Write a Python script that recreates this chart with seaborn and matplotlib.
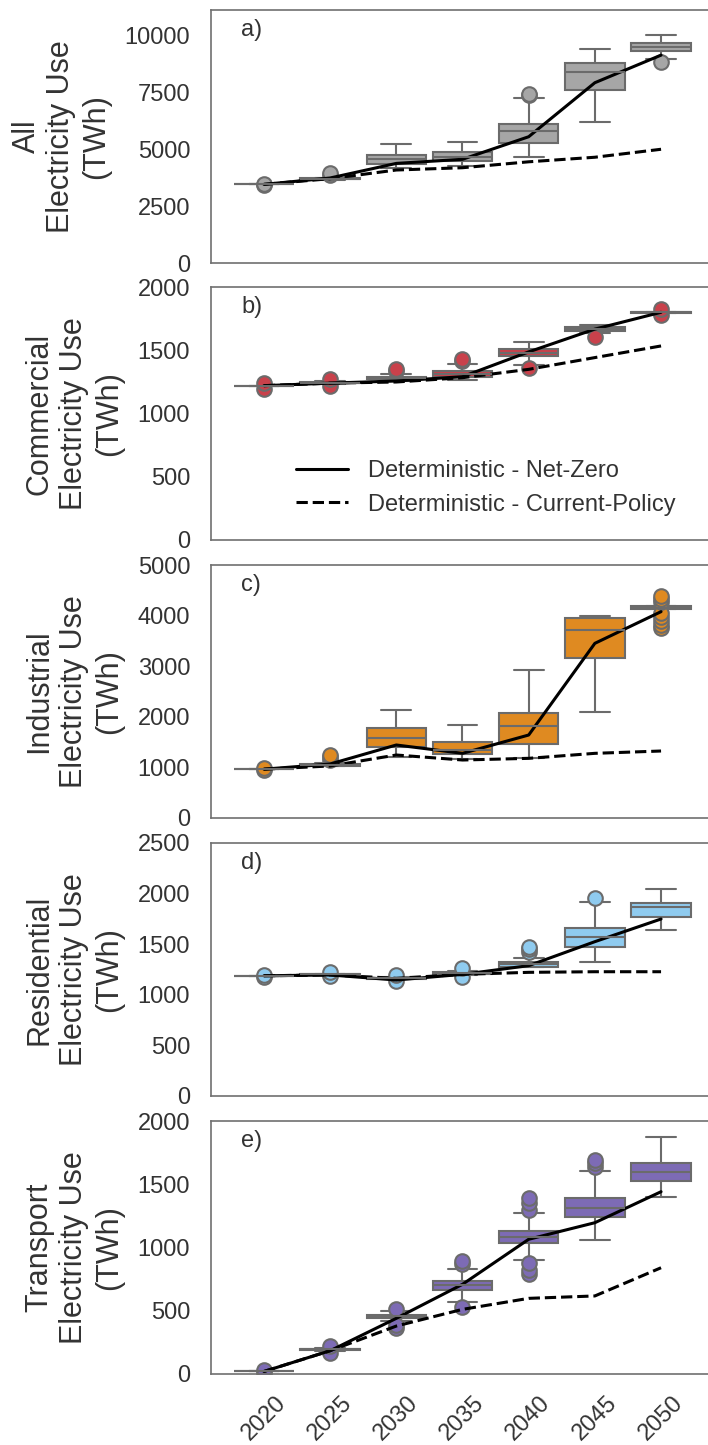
import numpy as np
import pandas as pd
import seaborn as sns
import matplotlib.pyplot as plt
from matplotlib.lines import Line2D

years = ['2020', '2025', '2030', '2035', '2040', '2045', '2050']

# a) all electricity use (TWh) - box stats
all_lo = [3450, 3640, 4150, 4250, 4660, 6200, 8930]
all_q1 = [3450, 3670, 4330, 4490, 5280, 7590, 9320]
all_med = [3450, 3695, 4550, 4660, 5790, 8390, 9460]
all_q3 = [3450, 3720, 4740, 4880, 6100, 8760, 9640]
all_hi = [3450, 3750, 5200, 5320, 7260, 9370, 10000]
all_out = [[3410, 3480], [3880, 3930], [], [], [7350, 7420], [], [8820]]
all_nz = [3450, 3730, 4370, 4550, 5540, 7910, 9120]
all_cp = [3450, 3700, 4080, 4180, 4440, 4640, 4990]

# b) commercial
com_lo = [1220, 1232, 1255, 1265, 1385, 1635, 1795]
com_q1 = [1220, 1238, 1270, 1291, 1455, 1655, 1795]
com_med = [1220, 1243, 1280, 1310, 1481, 1670, 1800]
com_q3 = [1220, 1248, 1290, 1336, 1508, 1685, 1805]
com_hi = [1220, 1255, 1315, 1390, 1566, 1701, 1805]
com_out = [[1195, 1240], [1215, 1272], [1336, 1350], [1415, 1432], [1360], [1605], [1775, 1824]]
com_nz = [1220, 1240, 1257, 1291, 1487, 1667, 1800]
com_cp = [1220, 1240, 1249, 1283, 1349, 1442, 1534]

# c) industrial
ind_lo = [965, 1020, 1212, 1159, 1195, 2101, 4130]
ind_q1 = [965, 1030, 1396, 1255, 1456, 3168, 4140]
ind_med = [965, 1045, 1574, 1344, 1825, 3715, 4160]
ind_q3 = [965, 1060, 1772, 1509, 2082, 3946, 4180]
ind_hi = [965, 1080, 2134, 1838, 2925, 4000, 4190]
ind_out = [[950, 985], [1150, 1200, 1250], [], [], [], [],
           [3760, 3820, 3900, 3980, 4060, 4260, 4320, 4380]]
ind_nz = [965, 1067, 1443, 1278, 1640, 3452, 4078]
ind_cp = [965, 1028, 1245, 1146, 1179, 1278, 1324]

# d) residential
res_lo = [1188, 1194, 1156, 1195, 1270, 1321, 1640]
res_q1 = [1188, 1198, 1160, 1208, 1278, 1475, 1772]
res_med = [1188, 1202, 1165, 1215, 1300, 1574, 1865]
res_q3 = [1188, 1206, 1170, 1222, 1321, 1657, 1910]
res_hi = [1188, 1210, 1174, 1235, 1367, 1920, 2045]
res_out = [[1175, 1200], [1183, 1222], [1135, 1195], [1180, 1262], [1420, 1450, 1470], [1953], []]
res_nz = [1188, 1196, 1146, 1202, 1288, 1525, 1749]
res_cp = [1188, 1196, 1163, 1202, 1222, 1228, 1228]

# e) transport
tra_lo = [20, 185, 420, 567, 900, 1059, 1397]
tra_q1 = [20, 190, 440, 664, 1038, 1239, 1526]
tra_med = [20, 195, 455, 704, 1085, 1315, 1599]
tra_q3 = [20, 200, 465, 735, 1133, 1389, 1670]
tra_hi = [20, 205, 495, 828, 1270, 1605, 1876]
tra_out = [[10, 30], [168, 218], [360, 385, 515], [527, 870, 895],
           [790, 820, 880, 1300, 1350, 1390], [1640, 1665, 1690], []]
tra_nz = [20, 184, 440, 709, 1065, 1196, 1441]
tra_cp = [20, 184, 379, 511, 598, 617, 840]


def sample(lo, q1, med, q3, hi, out):
    # rebuild a sample whose quartiles/whiskers/fliers match the read values
    low = sorted(v for v in out if v < q1)
    high = sorted(v for v in out if v > q3)
    m = max(len(low), len(high)) + 1
    return (low + [lo] + [q1] * (2 * m - len(low) - 1) + [med]
            + [q3] * (2 * m - 1 - len(high)) + [hi] + high)


def make_df(lo, q1, med, q3, hi, out):
    rows = []
    for i, yr in enumerate(years):
        for v in sample(lo[i], q1[i], med[i], q3[i], hi[i], out[i]):
            rows.append((yr, v))
    return pd.DataFrame(rows, columns=['year', 'value'])


panels = [
    ('a)', 'All\nElectricity Use\n(TWh)', '#a6a6a6',
     make_df(all_lo, all_q1, all_med, all_q3, all_hi, all_out), all_nz, all_cp,
     (0, 11100), [0, 2500, 5000, 7500, 10000]),
    ('b)', 'Commercial\nElectricity Use\n(TWh)', '#c9414b',
     make_df(com_lo, com_q1, com_med, com_q3, com_hi, com_out), com_nz, com_cp,
     (0, 2000), [0, 500, 1000, 1500, 2000]),
    ('c)', 'Industrial\nElectricity Use\n(TWh)', '#df8a21',
     make_df(ind_lo, ind_q1, ind_med, ind_q3, ind_hi, ind_out), ind_nz, ind_cp,
     (0, 5000), [0, 1000, 2000, 3000, 4000, 5000]),
    ('d)', 'Residential\nElectricity Use\n(TWh)', '#8fcbef',
     make_df(res_lo, res_q1, res_med, res_q3, res_hi, res_out), res_nz, res_cp,
     (0, 2500), [0, 500, 1000, 1500, 2000, 2500]),
    ('e)', 'Transport\nElectricity Use\n(TWh)', '#7d6bb5',
     make_df(tra_lo, tra_q1, tra_med, tra_q3, tra_hi, tra_out), tra_nz, tra_cp,
     (0, 2000), [0, 500, 1000, 1500, 2000]),
]

sns.set_style('white')
plt.rcParams['font.family'] = ['Liberation Sans', 'DejaVu Sans']
plt.rcParams['axes.edgecolor'] = '#707070'
plt.rcParams['text.color'] = '#333333'
plt.rcParams['xtick.color'] = '#333333'
plt.rcParams['ytick.color'] = '#333333'
plt.rcParams['axes.labelcolor'] = '#333333'

fig = plt.figure(figsize=(7.08, 14.45), dpi=100)
bottoms_px = [263, 540, 818, 1096, 1374]
line_col = '#6b6b6b'

for k, (tag, ylab, col, df, nz, cp, ylim, yt) in enumerate(panels):
    ax = fig.add_axes([211 / 708, 1 - bottoms_px[k] / 1445, 503 / 708, 253 / 1445])
    sns.boxplot(data=df, x='year', y='value', order=years, color=col, saturation=1,
                width=0.9, linecolor=line_col, linewidth=1.5, ax=ax,
                flierprops=dict(marker='o', markersize=10.5, markerfacecolor=col,
                                markeredgecolor=line_col, markeredgewidth=1.5))
    pos = np.arange(len(years))
    sns.lineplot(x=pos, y=nz, color='black', linewidth=2.2, ax=ax, legend=False)
    sns.lineplot(x=pos, y=cp, color='black', linewidth=2.2, linestyle='--', ax=ax, legend=False)
    ax.set_xlim(-0.8, 6.8)
    ax.set_ylim(*ylim)
    ax.set_yticks(yt)
    ax.set_xlabel('')
    ax.set_ylabel(ylab, fontsize=22, labelpad=10)
    ax.tick_params(axis='y', labelsize=17, length=0, pad=15)
    ax.tick_params(axis='x', labelsize=17, length=0, pad=13)
    for s in ax.spines.values():
        s.set_linewidth(1.2)
    ax.spines['right'].set_visible(False)
    ax.text(0.06, 0.965, tag, transform=ax.transAxes, fontsize=17, va='top', ha='left')
    if k < 4:
        ax.tick_params(axis='x', labelbottom=False)
    else:
        ax.set_xticks(pos)
        ax.set_xticklabels(years, rotation=45, ha='center')
    if k == 1:
        handles = [Line2D([], [], color='black', lw=2.2),
                   Line2D([], [], color='black', lw=2.2, ls='--')]
        ax.legend(handles, ['Deterministic - Net-Zero', 'Deterministic - Current-Policy'],
                  loc='lower left', bbox_to_anchor=(0.127, 0.012), frameon=False,
                  fontsize=17, handlelength=2.2, handletextpad=0.85)

fig.savefig('out.png', dpi=100)
